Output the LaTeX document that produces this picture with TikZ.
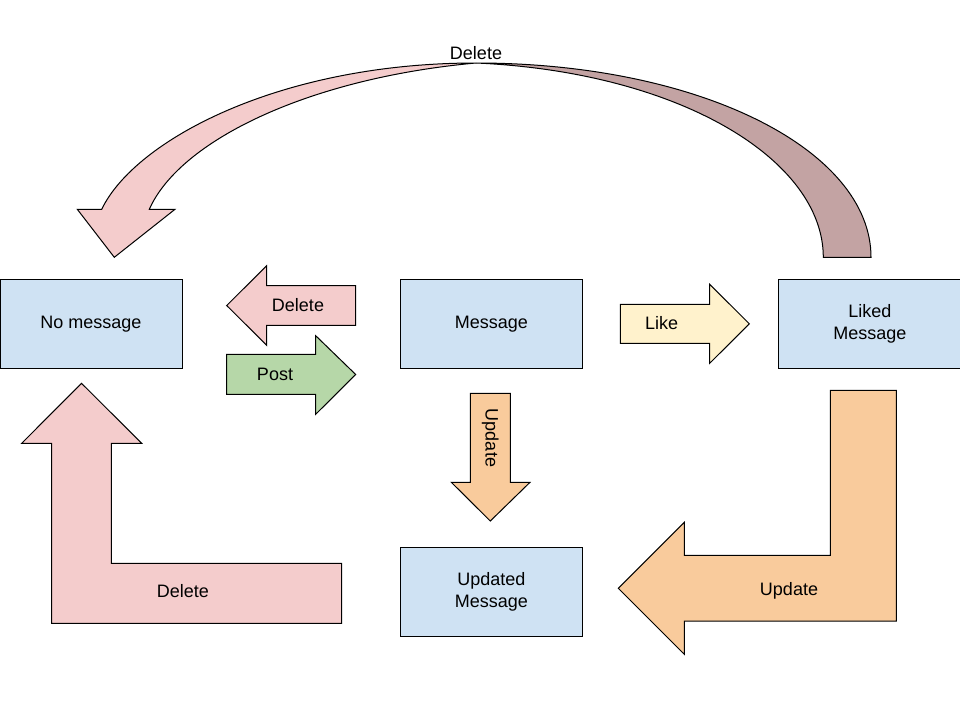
\documentclass[tikz,border=0pt]{standalone}
\usepackage{fontspec}
\setmainfont{Liberation Sans}
\usepackage{xcolor}
\usetikzlibrary{positioning}
\definecolor{boxblue}{HTML}{CFE2F3}
\definecolor{delpink}{HTML}{F4CCCC}
\definecolor{delback}{HTML}{C3A3A3}
\definecolor{postgreen}{HTML}{B6D7A8}
\definecolor{likeyellow}{HTML}{FFF2CC}
\definecolor{updorange}{HTML}{F9CB9C}

\begin{document}
\begin{tikzpicture}[x=1pt, y=-1pt, line width=1pt,
    font=\fontsize{18}{22}\selectfont]

                \def\w{182pt}
                \def\h{89pt}

                % Styles for the states and for the block arrows
                \tikzset{
                    statebox/.style={draw, fill=boxblue, align=center,
                        minimum width=\w, minimum height=\h, inner sep=0pt},
                    blockfill/.style={draw, fill=#1},
                    arrowlabel/.style={inner sep=0pt}
                }

                \useasboundingbox (0,0) rectangle (960,720);

                % The four states
                \begin{scope}
                    \node[statebox] (nomsg) at (91,323.8) {No message};
                    \node[statebox, right=217.3pt of nomsg] (msg)
                    {Message};
                    \node[statebox, right=195.6pt of msg] (liked)
                    {Liked\\Message};
                    \node[statebox, below=177.7pt of msg] (updated)
                    {Updated\\Message};
                \end{scope}

                % Straight block arrows
                \begin{scope}
                    \draw[blockfill=delpink] (355.7,285.7) -- (266.7,285.7)
                    -- (266.7,265.7) -- (226.7,305.5) -- (266.7,345.3)
                    -- (266.7,325.3) -- (355.7,325.3) -- cycle;
                    \draw[blockfill=postgreen] (226.7,354.3) -- (315.7,354.3)
                    -- (315.7,335.7) -- (355.7,374.5) -- (315.7,414.3)
                    -- (315.7,394.3) -- (226.7,394.3) -- cycle;
                    \draw[blockfill=likeyellow] (620.3,304.3) -- (709.7,304.3)
                    -- (709.7,284.3) -- (749.3,323.8) -- (709.7,363.3)
                    -- (709.7,343.3) -- (620.3,343.3) -- cycle;
                    \draw[blockfill=updorange] (470.3,393.3) -- (510.3,393.3)
                    -- (510.3,482.3) -- (530,482.3) -- (490.3,521)
                    -- (451.3,482.3) -- (470.3,482.3) -- cycle;
                \end{scope}

                % Bent block arrows
                \begin{scope}
                    \draw[blockfill=delpink] (51.7,623.3) -- (341.7,623.3)
                    -- (341.7,563.3) -- (111.3,563.3) -- (111.3,443.3)
                    -- (141.7,443.3) -- (81.5,383.3) -- (21.7,443.3)
                    -- (51.7,443.3) -- cycle;
                    \draw[blockfill=updorange] (830.3,390.3) -- (896.3,390.3)
                    -- (896.3,621) -- (684.3,621) -- (684.3,654.3)
                    -- (618.3,588.3) -- (684.3,522.3) -- (684.3,555.3)
                    -- (830.3,555.3) -- cycle;
                \end{scope}

                % Curved arrow over the top, front and back side
                \begin{scope}
                    \draw[blockfill=delpink] (476,63)
                    .. controls (280,63) and (135,140) .. (101.7,209.3)
                    -- (77.3,209.3) -- (114.3,257.3) -- (175,209.3)
                    -- (149.3,209.3)
                    .. controls (180,140) and (310,78) .. (476,63) -- cycle;
                    \draw[blockfill=delback] (476,63)
                    .. controls (700,63) and (871,150) .. (871,257.3)
                    -- (823.3,257.3)
                    .. controls (823.3,160) and (680,72) .. (476,63) -- cycle;
                \end{scope}

                % Labels of the arrows
                \node[arrowlabel] (delsmall) at (298,305.5) {Delete};
                \node[arrowlabel] (post) at (275,374.3) {Post};
                \node[arrowlabel] (like) at (661.7,323.5) {Like};
                \node[arrowlabel, rotate=-90] (upddown) at (490.3,438)
                {Update};
                \node[arrowlabel] (delbent) at (183,590.7) {Delete};
                \node[arrowlabel] (updbent) at (789,590.7) {Update};
                \node[arrowlabel] (deltop) at (476,53.5) {Delete};

\end{tikzpicture}
\end{document}
